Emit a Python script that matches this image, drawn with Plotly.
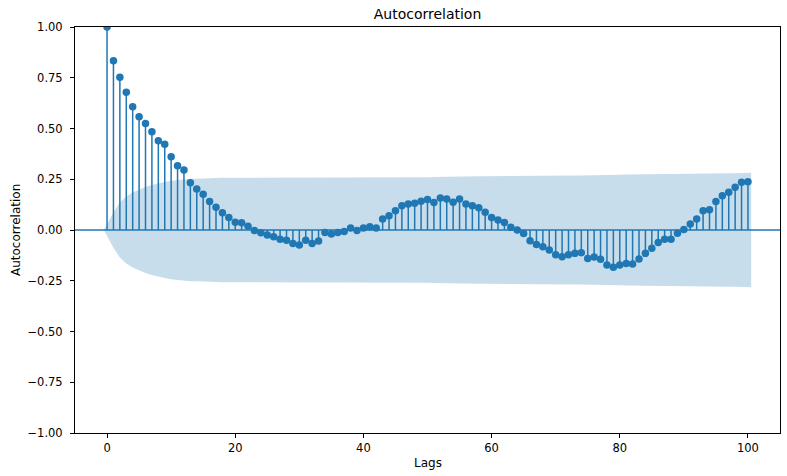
import plotly.graph_objects as go

# ---- data ----
lags = list(range(101))
acf_values = [
    1.0, 0.834, 0.752, 0.678, 0.607, 0.558, 0.525, 0.484, 0.44, 0.422,
    0.361, 0.317, 0.296, 0.233, 0.202, 0.176, 0.14, 0.112, 0.085, 0.062,
    0.038, 0.036, 0.018, -0.002, -0.013, -0.025, -0.033, -0.045, -0.05, -0.066,
    -0.074, -0.05, -0.066, -0.054, -0.012, -0.02, -0.012, -0.008, 0.01, -0.003,
    0.01, 0.016, 0.01, 0.054, 0.07, 0.095, 0.12, 0.128, 0.132, 0.142,
    0.15, 0.136, 0.158, 0.153, 0.137, 0.153, 0.128, 0.12, 0.109, 0.087,
    0.062, 0.049, 0.037, 0.013, 0.0, -0.017, -0.053, -0.072, -0.082, -0.099,
    -0.122, -0.132, -0.122, -0.115, -0.112, -0.141, -0.133, -0.144, -0.173, -0.184,
    -0.173, -0.165, -0.168, -0.143, -0.115, -0.09, -0.061, -0.045, -0.045, -0.016,
    0.002, 0.03, 0.054, 0.095, 0.1, 0.141, 0.169, 0.186, 0.21, 0.235,
    0.238,
]
# half-width of the 95% confidence band at each lag (read from the shaded area)
band_halfwidth = [
    0.0, 0.088, 0.136, 0.165, 0.185, 0.200, 0.212, 0.222, 0.230, 0.236,
    0.242, 0.246, 0.249, 0.252, 0.253, 0.255, 0.256, 0.256, 0.257, 0.257,
    0.257, 0.257, 0.257, 0.257, 0.257, 0.257, 0.257, 0.257, 0.257, 0.257,
    0.257, 0.257, 0.258, 0.258, 0.258, 0.258, 0.258, 0.258, 0.258, 0.258,
    0.258, 0.258, 0.258, 0.258, 0.258, 0.258, 0.259, 0.259, 0.259, 0.260,
    0.260, 0.261, 0.262, 0.262, 0.263, 0.263, 0.264, 0.264, 0.265, 0.265,
    0.265, 0.266, 0.266, 0.266, 0.266, 0.266, 0.266, 0.266, 0.266, 0.267,
    0.267, 0.267, 0.268, 0.268, 0.269, 0.269, 0.270, 0.270, 0.271, 0.271,
    0.272, 0.273, 0.274, 0.275, 0.275, 0.276, 0.276, 0.276, 0.276, 0.276,
    0.276, 0.276, 0.276, 0.276, 0.277, 0.277, 0.278, 0.279, 0.280, 0.281,
    0.282,
]
x_ticks = [0, 20, 40, 60, 80, 100]
y_ticks = [-1.0, -0.75, -0.5, -0.25, 0.0, 0.25, 0.5, 0.75, 1.0]

C0 = "#1f77b4"

# band x positions: first/last lag widened by half a lag (as statsmodels does)
band_x = [float(v) for v in lags]
band_x[0] -= 0.5
band_x[-1] += 0.5
upper = [h for h in band_halfwidth]
lower = [-h for h in band_halfwidth]

stem_x, stem_y = [], []
for k, r in zip(lags, acf_values):
    stem_x += [k, k, None]
    stem_y += [0, r, None]

fig = go.Figure()
fig.add_trace(go.Scatter(x=band_x, y=upper, mode="lines", line=dict(width=0, color=C0),
                         hoverinfo="skip", showlegend=False))
fig.add_trace(go.Scatter(x=band_x, y=lower, mode="lines", line=dict(width=0, color=C0),
                         fill="tonexty", fillcolor="rgba(31,119,180,0.25)",
                         hoverinfo="skip", showlegend=False))
fig.add_trace(go.Scatter(x=[-5, 105], y=[0, 0], mode="lines",
                         line=dict(color=C0, width=1.5), showlegend=False, hoverinfo="skip"))
fig.add_trace(go.Scatter(x=stem_x, y=stem_y, mode="lines",
                         line=dict(color=C0, width=1.5), showlegend=False, hoverinfo="skip"))
fig.add_trace(go.Scatter(x=lags, y=acf_values, mode="markers",
                         marker=dict(color=C0, size=7.5), showlegend=False))

W, H = 787, 476

font = "DejaVu Sans, Liberation Sans, sans-serif"
fig.update_layout(
    width=W, height=H,
    margin=dict(l=75, r=7, t=27, b=43),
    paper_bgcolor="white", plot_bgcolor="white",
    font=dict(family=font, size=11.5, color="black"),
    title=dict(text="Autocorrelation", x=0.5, xref="paper", xanchor="center",
               y=1 - 14 / H, yref="container", yanchor="middle",
               font=dict(size=14, color="black", family=font)),
    xaxis=dict(range=[-5, 105], tickvals=x_ticks, ticks="outside", ticklen=4,
               tickcolor="black", showline=True, linecolor="black", linewidth=1,
               mirror=True, showgrid=False, zeroline=False,
               tickfont=dict(size=11.5, color="black")),
    yaxis=dict(range=[-1, 1], tickvals=y_ticks, tickformat=".2f", ticks="outside",
               ticklen=4, tickcolor="black", showline=True, linecolor="black",
               linewidth=1, mirror=True, showgrid=False, zeroline=False,
               ticklabelstandoff=5,
               tickfont=dict(size=11.5, color="black")),
    annotations=[
        dict(text="Lags", xref="paper", yref="paper", x=0.5, y=(433 - 463) / 406,
             xanchor="center", yanchor="middle", showarrow=False,
             font=dict(size=12, color="black")),
        dict(text="Autocorrelation", xref="paper", yref="paper", x=(16 - 75) / 705, y=0.5,
             xanchor="center", yanchor="middle", textangle=-90, showarrow=False,
             font=dict(size=12, color="black")),
    ],
)

# remove the page's default 8px body margin so the figure fills the window
fig.write_html("out.html",
               config={"displayModeBar": False},
               post_script="document.body.style.margin='0';document.body.style.overflow='hidden';")
